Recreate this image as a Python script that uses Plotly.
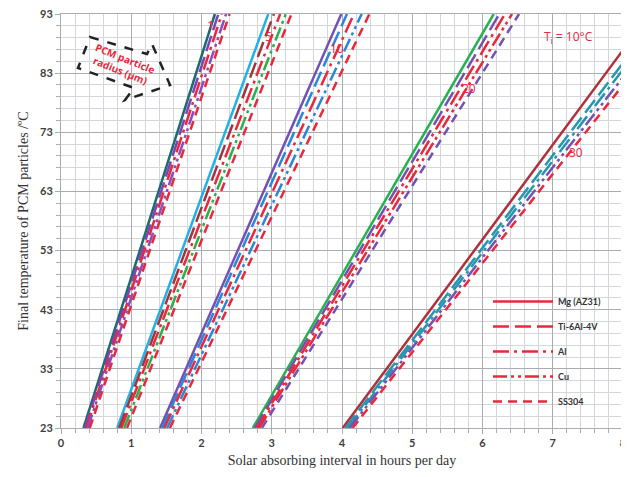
import plotly.graph_objects as go

# ---------------- data ----------------
radii = ["1", "5", "10", "20", "30"]
materials = ["Mg (AZ31)", "Ti-6Al-4V", "Al", "Cu", "SS304"]

# radius 1..20 µm : time (h) at which each line is at 23 °C and at 93 °C
temps_low_high = [23, 93]
t_r1_low = [0.32, 0.34, 0.36, 0.38, 0.41]
t_r1_high = [2.19, 2.24, 2.29, 2.35, 2.40]
t_r5_low = [0.80, 0.83, 0.86, 0.90, 0.94]
t_r5_high = [2.95, 3.03, 3.12, 3.20, 3.28]
t_r10_low = [1.41, 1.44, 1.47, 1.51, 1.55]
t_r10_high = [3.99, 4.07, 4.17, 4.28, 4.39]
t_r20_low = [2.73, 2.76, 2.79, 2.82, 2.86]
t_r20_high = [6.16, 6.24, 6.32, 6.42, 6.52]
# radius 30 µm : time at 23 °C, and temperature reached at 8 h
t_r30_low = [4.01, 4.05, 4.08, 4.11, 4.15]
T_r30_at8 = [86.9, 84.7, 83.6, 82.3, 81.0]
t_end = 8

x_ticks = [0, 1, 2, 3, 4, 5, 6, 7, 8]
y_ticks = [23, 33, 43, 53, 63, 73, 83, 93]

# ---------------- styles ----------------
dashes = ["solid", "16px,6px", "16px,5px,3px,5px", "14px,4px,3px,4px,3px,4px", "9px,6px"]
group_colors = [
    ["#1d6b6e", "#7a45b5", "#e8283c", "#8a4cc0", "#e8283c"],
    ["#22b0e6", "#a0353a", "#e8283c", "#28b04c", "#e8283c"],
    ["#7550b4", "#2a86d6", "#e8283c", "#2a86d6", "#e8283c"],
    ["#25b24e", "#7550b4", "#e8283c", "#e8283c", "#7550b4"],
    ["#b0303a", "#2795b0", "#2795b0", "#7550b4", "#e8283c"],
]
RED = "#e8283c"

fig = go.Figure()

lows = [t_r1_low, t_r5_low, t_r10_low, t_r20_low]
highs = [t_r1_high, t_r5_high, t_r10_high, t_r20_high]
for g in range(4):
    for m in range(5):
        fig.add_trace(go.Scatter(
            x=[lows[g][m], highs[g][m]], y=temps_low_high, mode="lines",
            line=dict(color=group_colors[g][m], width=2.5, dash=dashes[m]),
            showlegend=False, hoverinfo="skip"))
for m in range(5):
    fig.add_trace(go.Scatter(
        x=[t_r30_low[m], t_end], y=[temps_low_high[0], T_r30_at8[m]], mode="lines",
        line=dict(color=group_colors[4][m], width=2.5, dash=dashes[m]),
        showlegend=False, hoverinfo="skip"))

# legend entries (all red in the reference)
for m in range(5):
    fig.add_trace(go.Scatter(
        x=[None], y=[None], mode="lines", name=materials[m],
        legendgroup=materials[m],
        line=dict(color=RED, width=2.5, dash=dashes[m])))

# ---------------- annotations ----------------
label_pos = [(2.13, 91.0), (2.95, 89.2), (3.93, 87.2), (5.81, 80.4), (7.33, 69.6)]
annotations = []
for lab, (xx, yy) in zip(radii, label_pos):
    annotations.append(dict(x=xx, y=yy, text=lab, showarrow=False,
                            font=dict(family="Open Sans", size=12, color=RED)))
annotations.append(dict(x=7.23, y=89.1, text="T<sub>i</sub> = 10°C", showarrow=False,
                        font=dict(family="Open Sans", size=12, color=RED)))
annotations.append(dict(x=0.88, y=84.4, text="<b>PCM particle<br>radius (µm)</b>",
                        showarrow=False, textangle=22,
                        font=dict(family="Open Sans", size=10, color=RED)))

# page body has an 8px margin: offset the figure so the plot lands where the reference's does
PAGE_OFF = 8
FIG_W, FIG_H = 629 - PAGE_OFF, 477 - 2 * PAGE_OFF
L, R, T, B = 61 - PAGE_OFF, 623 - PAGE_OFF, 14 - PAGE_OFF, 428 - PAGE_OFF
W, H = R - L, B - T
# arrow outline (reference pixel positions)
pts = [(90, 37), (147, 54), (152, 44), (170, 85), (125, 100), (134, 88), (78, 68)]
def pp(px, py):
    return (px - PAGE_OFF - L) / W, (B - (py - PAGE_OFF)) / H
path = "M " + " L ".join(f"{pp(a,b)[0]:.4f},{pp(a,b)[1]:.4f}" for a, b in pts) + " Z"
shapes = [dict(type="path", path=path, xref="paper", yref="paper",
               line=dict(color="#222222", width=2.5, dash="dash"))]

tickfont = dict(family="Lato", size=11, color="#404040", weight="bold")

fig.update_layout(
    width=FIG_W, height=FIG_H,
    margin=dict(l=L, r=FIG_W - R, t=T, b=FIG_H - B),
    paper_bgcolor="white", plot_bgcolor="white",
    annotations=annotations, shapes=shapes,
    legend=dict(x=pp(488, 0)[0], y=pp(0, 287)[1], xanchor="left", yanchor="top",
                bgcolor="rgba(0,0,0,0)", itemwidth=60, tracegroupgap=6,
                font=dict(family="Lato", size=9, color="#333333", weight="bold")),
    xaxis=dict(range=[0, 8], tickmode="array", tickvals=x_ticks,
               ticktext=[str(v) for v in x_ticks], automargin=False,
               ticklabeloverflow="allow",
               showgrid=True, gridcolor="#a9adb2", gridwidth=1,
               minor=dict(dtick=0.2, showgrid=True, gridcolor="#d3d6da",
                          ticks="outside", ticklen=4, tickcolor="#a9adb2"),
               ticks="outside", ticklen=5, tickcolor="#a9adb2",
               showline=True, linecolor="#a9adb2", mirror=True, zeroline=False,
               tickfont=tickfont,
               title=dict(text="Solar absorbing interval in hours per day", standoff=6,
                          font=dict(family="Liberation Serif", size=14, color="#333333"))),
    yaxis=dict(range=[23, 93], tickmode="array", tickvals=y_ticks,
               ticktext=[str(v) for v in y_ticks], automargin=False,
               ticklabeloverflow="allow",
               showgrid=True, gridcolor="#a9adb2", gridwidth=1,
               minor=dict(tick0=23, dtick=2, showgrid=True, gridcolor="#d3d6da",
                          ticks="outside", ticklen=4, tickcolor="#a9adb2"),
               ticks="outside", ticklen=5, tickcolor="#a9adb2",
               showline=True, linecolor="#a9adb2", mirror=True, zeroline=False,
               tickfont=tickfont,
               title=dict(text="Final temperature of PCM particles /ºC", standoff=8,
                          font=dict(family="Liberation Serif", size=14, color="#333333"))),
)

fig.write_html("out.html")
